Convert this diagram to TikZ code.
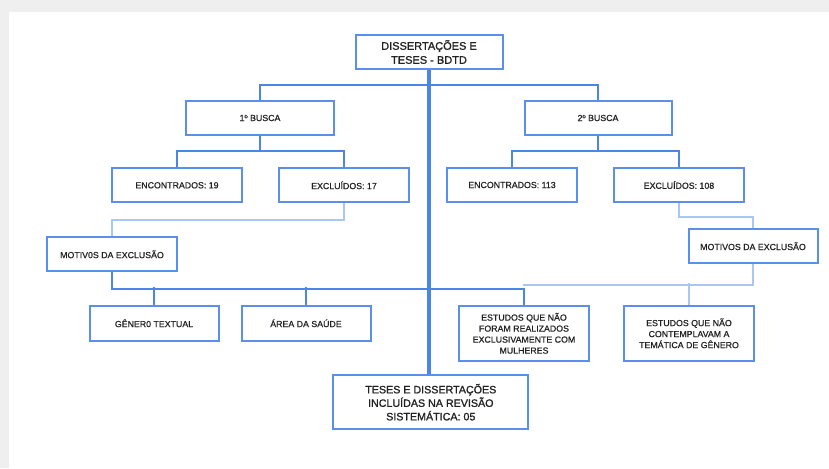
\documentclass[tikz,border=0pt]{standalone}
\usepackage{fontspec}
\setmainfont{Liberation Sans}
\newfontfamily\smallf[FakeBold=0.6]{Liberation Sans}
\newfontfamily\bigf[FakeBold=1.2]{Liberation Sans}
\definecolor{bord}{HTML}{5B8FEE}
\definecolor{lineb}{HTML}{4A86E8}
\definecolor{lightb}{HTML}{A9C6F5}
\definecolor{txt}{HTML}{222222}
\definecolor{bg}{HTML}{EFEFEF}
\begin{document}
\begin{tikzpicture}[x=1pt,y=-1pt,
 box/.style={draw=bord,line width=2pt,fill=white,inner sep=0pt,align=center,text=txt,font=\smallf\fontsize{8.8}{11}\selectfont},
 conn/.style={draw=lineb,line width=2pt},
 lconn/.style={draw=lightb,line width=2pt}]
\fill[bg] (0,0) rectangle (829,468);
\fill[white] (8.5,12) rectangle (829,468);
\useasboundingbox (0,0) rectangle (829,468);

\node[box,minimum width=147pt,minimum height=34pt,font=\bigf\fontsize{11}{14}\selectfont] (top) at (429,52) {DISSERTAÇÕES E\\TESES - BDTD};
\node[box,minimum width=148pt,minimum height=34pt] (b1) at (260,118) {1º BUSCA};
\node[box,minimum width=147pt,minimum height=34pt] (b2) at (598,118) {2º BUSCA};
\node[box,minimum width=130pt,minimum height=34pt] (enc1) at (177,185.3) {ENCONTRADOS: 19};
\node[box,minimum width=130pt,minimum height=34pt] (exc1) at (344,185.3) {EXCLUÍDOS: 17};
\node[box,minimum width=130pt,minimum height=34pt] (enc2) at (512,185) {ENCONTRADOS: 113};
\node[box,minimum width=130pt,minimum height=34pt] (exc2) at (679,185) {EXCLUÍDOS: 108};
\node[box,minimum width=130pt,minimum height=34pt] (mot1) at (112,254.3) {MOTIV0S DA EXCLUSÃO};
\node[box,minimum width=129pt,minimum height=34pt] (mot2) at (753,246.2) {MOTIVOS DA EXCLUSÃO};
\node[box,minimum width=129pt,minimum height=34.7pt] (gen) at (154,323.3) {GÊNER0 TEXTUAL};
\node[box,minimum width=129pt,minimum height=34.7pt] (area) at (306,323.3) {ÁREA DA SAÚDE};
\node[box,minimum width=130pt,minimum height=54.7pt] (est1) at (524,333.3) {ESTUDOS QUE NÃO\\FORAM REALIZADOS\\EXCLUSIVAMENTE COM\\MULHERES};
\node[box,minimum width=130.7pt,minimum height=54.7pt] (est2) at (689,333.3) {ESTUDOS QUE NÃO\\CONTEMPLAVAM A\\TEMÁTICA DE GÊNERO};
\node[box,minimum width=195pt,minimum height=54.3pt,font=\bigf\fontsize{10.7}{13.5}\selectfont] (fin) at (430.8,402.2) {TESES E DISSERTAÇÕES\\INCLUÍDAS NA REVISÃO\\SISTEMÁTICA: 05};

% central spine
\draw[conn,line width=3.3pt] (top.south) -- (top.south |- fin.north);
% level 1
\draw[conn] (b1.north) -- ++(0,-15.3) -| (b2.north);
% 1st search
\draw[conn] (b1.south) -- ++(0,16.4);
\draw[conn] (enc1.north) -- ++(0,-16.6) -| (exc1.north);
% 2nd search
\draw[conn] (b2.south) -- ++(0,16.4);
\draw[conn] (enc2.north) -- ++(0,-16.3) -| (exc2.north);
% exclusions -> reasons
\draw[lconn] (exc1.south) -- ++(0,17) -| (mot1.north);
\draw[lconn] (exc2.south) -- ++(0,13.7) -| (mot2.north);
% reasons (1st)
\draw[conn] (mot1.south) -- ++(0,16.4) -| (est1.north);
\draw[conn] (gen.north) -- ++(0,-18.3);
\draw[conn] (area.north) -- ++(0,-18.3);
% reasons (2nd)
\draw[lconn] (mot2.south) -- ++(0,21) -| (est1.north |- 0,284.3);
\draw[lconn] (est2.north) -- ++(0,-21.7);
\end{tikzpicture}
\end{document}
